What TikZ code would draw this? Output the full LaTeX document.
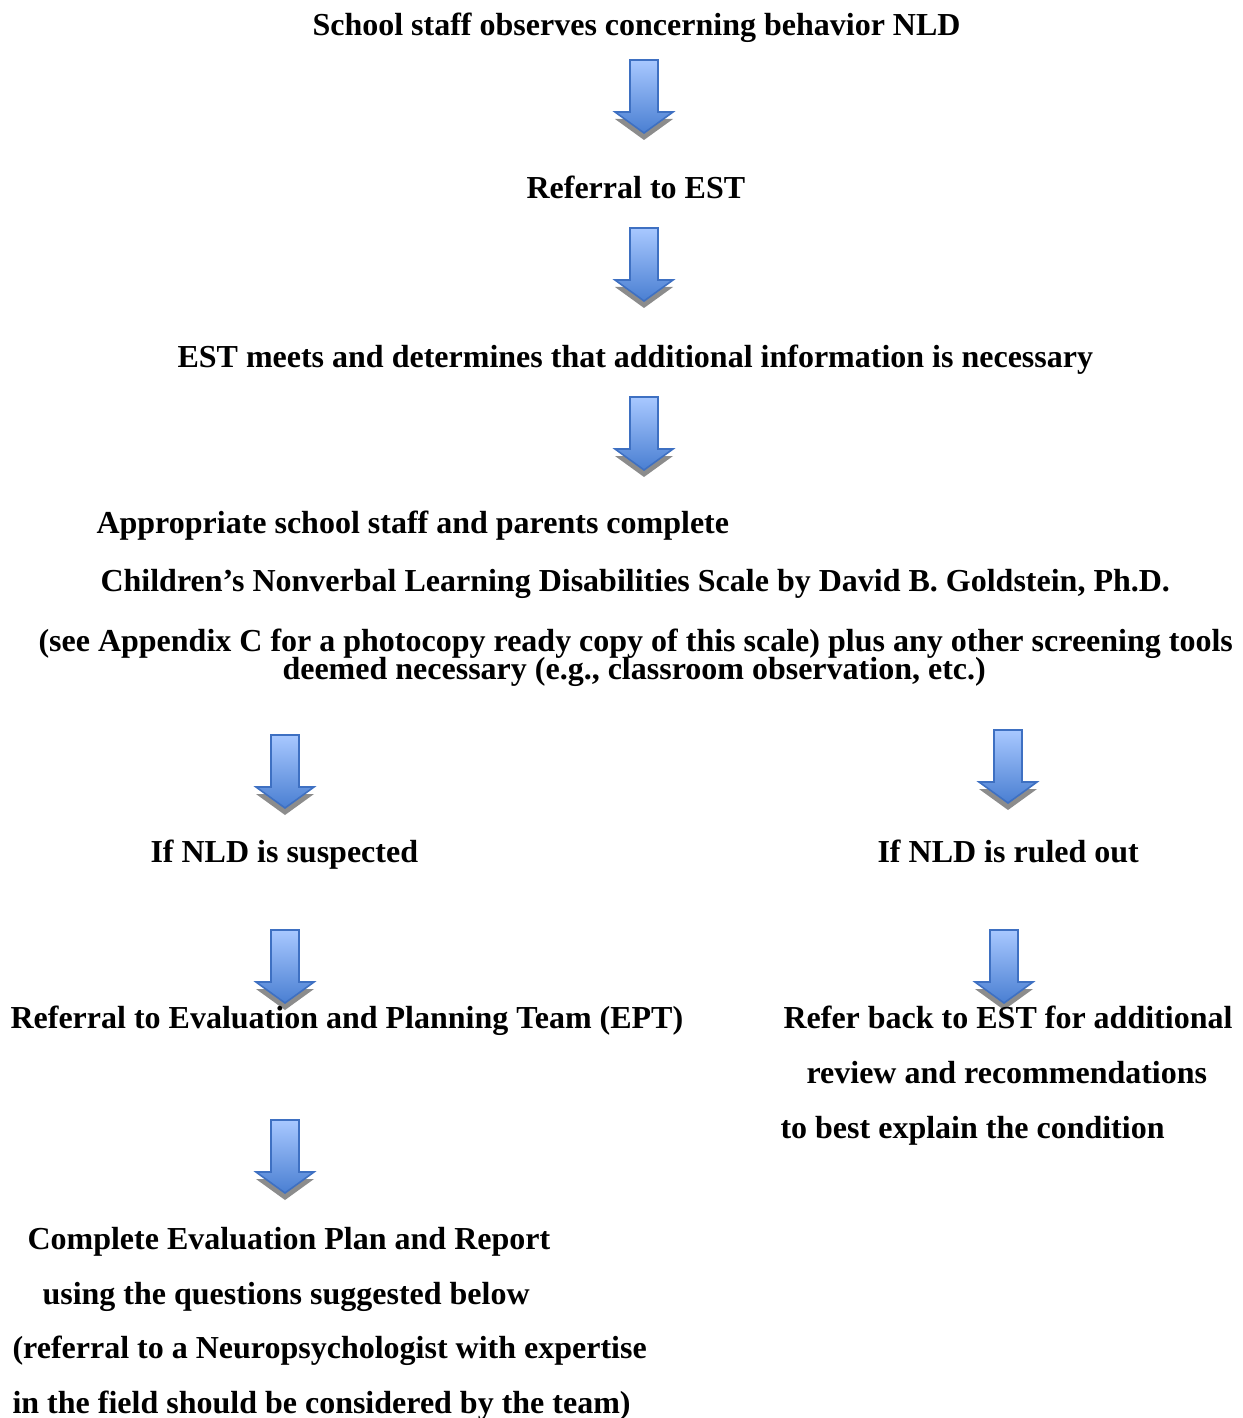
\documentclass[tikz,border=0pt]{standalone}
\usepackage{fontspec}
\setmainfont{Liberation Serif}
\usetikzlibrary{positioning}
\definecolor{arrowtop}{HTML}{A8C8FF}
\definecolor{arrowbot}{HTML}{4A7FD2}
\definecolor{arrowline}{HTML}{3E70C2}
\tikzset{
  flowtext/.style={anchor=base west, inner sep=0pt, font=\fontsize{12}{14}\selectfont\bfseries},
  pics/downarrow/.style={code={
    \fill[black!45] (-14,7) -- (14,7) -- (14,59) -- (29,59) -- (0,80) -- (-29,59) -- (-14,59) -- cycle;
    \shade[top color=arrowtop, bottom color=arrowbot, draw=arrowline, line width=0.6pt]
      (-14,0) -- (14,0) -- (14,52) -- (29,52) -- (0,73) -- (-29,52) -- (-14,52) -- cycle;
  }}
}
\begin{document}
\begin{tikzpicture}[x=0.375pt,y=-0.375pt]
  \useasboundingbox (0,0) rectangle (1242,1418);
  % main column
  \node[flowtext] (staff) at (312,36) {School staff observes concerning behavior NLD};
  \pic (a1) at (644,60) {downarrow};
  \node[flowtext] (est) at (526,199) {Referral to EST};
  \pic (a2) at (644,228) {downarrow};
  \node[flowtext] (meets) at (177,367) {EST meets and determines that additional information is necessary};
  \pic (a3) at (644,397) {downarrow};
  \node[flowtext] (scale1) at (96,533) {Appropriate school staff and parents complete};
  \node[flowtext] (scale2) at (100,591) {Children’s Nonverbal Learning Disabilities Scale by David B. Goldstein, Ph.D.};
  \node[flowtext] (scale3) at (38,651) {(see Appendix C for a photocopy ready copy of this scale) plus any other screening tools};
  \node[flowtext] (scale4) at (282,679) {deemed necessary (e.g., classroom observation, etc.)};
  % left branch
  \pic (a4) at (285,735) {downarrow};
  \node[flowtext] (susp) at (150,862) {If NLD is suspected};
  \pic (a6) at (285,930) {downarrow};
  \node[flowtext] (ept) at (10,1028) {Referral to Evaluation and Planning Team (EPT)};
  \pic (a8) at (285,1120) {downarrow};
  \node[flowtext] (plan1) at (27,1249) {Complete Evaluation Plan and Report};
  \node[flowtext] (plan2) at (42,1304) {using the questions suggested below};
  \node[flowtext] (plan3) at (12,1358) {(referral to a Neuropsychologist with expertise};
  \node[flowtext] (plan4) at (12,1413) {in the field should be considered by the team)};
  % right branch
  \pic (a5) at (1008,730) {downarrow};
  \node[flowtext] (ruled) at (877,862) {If NLD is ruled out};
  \pic (a7) at (1004,930) {downarrow};
  \node[flowtext] (back1) at (783,1028) {Refer back to EST for additional};
  \node[flowtext] (back2) at (806,1083) {review and recommendations};
  \node[flowtext] (back3) at (780,1138) {to best explain the condition};
\end{tikzpicture}
\end{document}
